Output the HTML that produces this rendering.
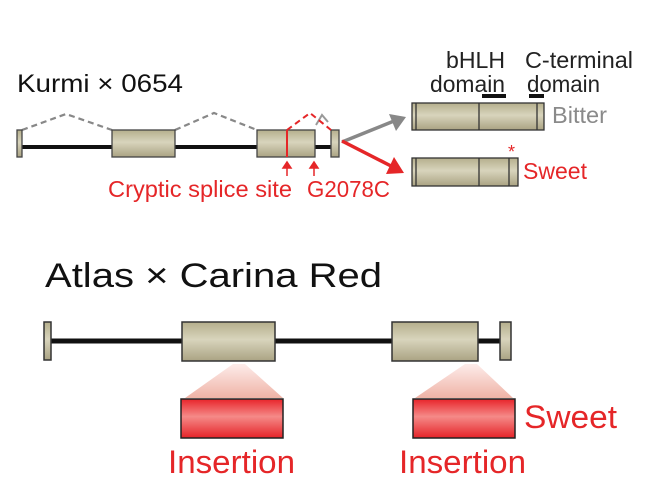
<!DOCTYPE html>
<html><head><meta charset="utf-8"><style>
html,body{margin:0;padding:0;background:#fff;}
svg{display:block;}
text{font-family:"Liberation Sans",Arial,sans-serif;}
</style></head><body>
<svg width="655" height="501" viewBox="0 0 655 501" xmlns="http://www.w3.org/2000/svg">
<defs>
<linearGradient id="ex" x1="0" y1="0" x2="0" y2="1">
<stop offset="0" stop-color="#b5af8c"/><stop offset="0.45" stop-color="#d8d4bc"/><stop offset="1" stop-color="#aaa383"/>
</linearGradient>
<linearGradient id="rd" x1="0" y1="0" x2="0" y2="1">
<stop offset="0" stop-color="#e8242a"/><stop offset="0.45" stop-color="#f58a88"/><stop offset="1" stop-color="#e52328"/>
</linearGradient>
<linearGradient id="tr" x1="0" y1="0" x2="0" y2="1">
<stop offset="0" stop-color="#fdecea"/><stop offset="1" stop-color="#efb3a6"/>
</linearGradient>
</defs>

<!-- Top -->
<text x="17" y="92" font-size="25" fill="#111" textLength="166" lengthAdjust="spacingAndGlyphs">Kurmi × 0654</text>
<line x1="20" y1="147" x2="334" y2="147" stroke="#111" stroke-width="4"/>
<g stroke="#888" stroke-width="2.2" stroke-dasharray="6,4" fill="none">
<polyline points="22,130 66,114 112,130"/>
<polyline points="175,130 214,113 257,130"/>
</g>
<polyline points="316,125 322,115 328,122" stroke="#999" stroke-width="2" fill="none"/>
<g stroke="#444" stroke-width="1.3" fill="url(#ex)">
<rect x="17" y="130" width="5" height="27"/>
<rect x="112" y="130" width="63" height="27"/>
<rect x="257" y="130" width="58" height="27"/>
<rect x="331" y="130" width="8" height="27"/>
</g>
<polyline points="287,130 310,113 331,130" stroke="#e52628" stroke-width="2" stroke-dasharray="6,4" fill="none"/>
<line x1="287" y1="130" x2="287" y2="157" stroke="#e52628" stroke-width="2"/>
<g stroke="#e52628" stroke-width="1.5" fill="#e52628">
<line x1="287" y1="176" x2="287" y2="165"/><path d="M283,168 L287,162 L291,168 Z"/>
<line x1="314" y1="176" x2="314" y2="165"/><path d="M310,168 L314,162 L318,168 Z"/>
</g>
<text x="108" y="197" font-size="23" fill="#e52628" textLength="184" lengthAdjust="spacingAndGlyphs">Cryptic splice site</text>
<text x="307" y="197" font-size="23" fill="#e52628" textLength="83" lengthAdjust="spacingAndGlyphs">G2078C</text>

<!-- arrows -->
<line x1="342" y1="142" x2="394" y2="121" stroke="#888" stroke-width="3.5"/>
<path d="M406,117 L389,114 L396,131 Z" fill="#888"/>
<line x1="342" y1="141" x2="391" y2="166" stroke="#e52628" stroke-width="3.5"/>
<path d="M404,173 L394,157 L386,174 Z" fill="#e52628"/>

<!-- protein -->
<text x="446" y="68" font-size="23" fill="#222" textLength="59" lengthAdjust="spacingAndGlyphs">bHLH</text>
<text x="430" y="92" font-size="23" fill="#222" textLength="75" lengthAdjust="spacingAndGlyphs">domain</text>
<text x="525" y="68" font-size="23" fill="#222" textLength="108" lengthAdjust="spacingAndGlyphs">C-terminal</text>
<text x="527" y="92" font-size="23" fill="#222" textLength="73" lengthAdjust="spacingAndGlyphs">domain</text>
<rect x="482" y="94" width="24" height="4" fill="#111"/>
<rect x="529" y="94" width="15" height="4" fill="#111"/>
<g stroke="#333" stroke-width="1.3" fill="url(#ex)">
<rect x="412" y="103" width="132" height="27"/>
<rect x="412" y="158" width="106" height="28"/>
</g>
<g stroke="#333" stroke-width="1.3">
<line x1="416" y1="103" x2="416" y2="130"/><line x1="479" y1="103" x2="479" y2="130"/><line x1="537" y1="103" x2="537" y2="130"/>
<line x1="416" y1="158" x2="416" y2="186"/><line x1="479" y1="158" x2="479" y2="186"/><line x1="509" y1="158" x2="509" y2="186"/>
</g>
<text x="552" y="123" font-size="23" fill="#8a8a8a" textLength="55" lengthAdjust="spacingAndGlyphs">Bitter</text>
<text x="508" y="158" font-size="18" fill="#e52628">*</text>
<text x="523" y="179" font-size="23" fill="#e52628" textLength="64" lengthAdjust="spacingAndGlyphs">Sweet</text>

<!-- Bottom -->
<text x="45" y="287" font-size="34" fill="#111" textLength="337" lengthAdjust="spacingAndGlyphs">Atlas × Carina Red</text>
<line x1="48" y1="341" x2="505" y2="341" stroke="#111" stroke-width="5"/>
<path d="M233,364 L245,364 L283,398 L185,398 Z" fill="url(#tr)"/>
<path d="M465,364 L477,364 L513,398 L415,398 Z" fill="url(#tr)"/>
<g stroke="#333" stroke-width="1.5" fill="url(#ex)">
<rect x="44" y="322" width="7" height="38"/>
<rect x="182" y="322" width="93" height="39"/>
<rect x="392" y="322" width="86" height="39"/>
<rect x="500" y="322" width="11" height="38"/>
</g>
<g stroke="#222" stroke-width="1.5" fill="url(#rd)">
<rect x="181" y="399" width="102" height="39"/>
<rect x="413" y="399" width="102" height="39"/>
</g>
<text x="168" y="473" font-size="32" fill="#e52628" textLength="127" lengthAdjust="spacingAndGlyphs">Insertion</text>
<text x="399" y="473" font-size="32" fill="#e52628" textLength="127" lengthAdjust="spacingAndGlyphs">Insertion</text>
<text x="524" y="428" font-size="32" fill="#e52628" textLength="93" lengthAdjust="spacingAndGlyphs">Sweet</text>
</svg>
</body></html>
